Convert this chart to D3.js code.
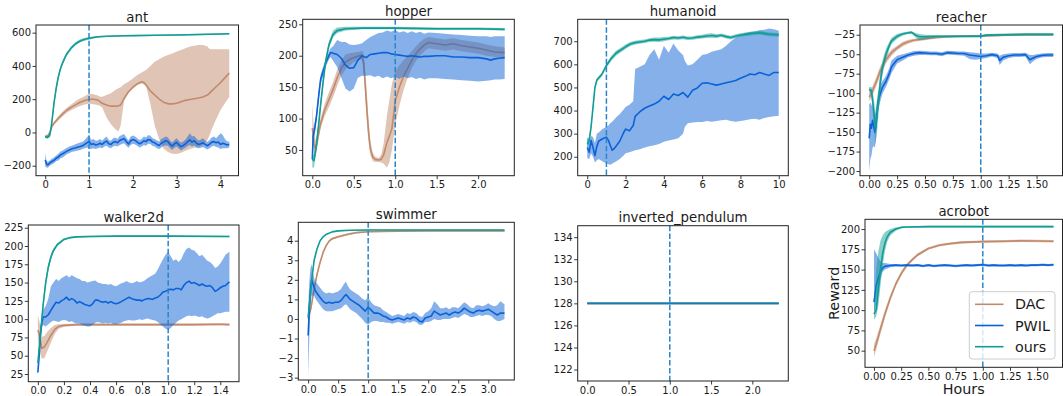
<!DOCTYPE html>
<html><head><meta charset="utf-8">
<script src="https://cdn.jsdelivr.net/npm/d3@7"></script>
<style>body{margin:0;background:#fff} svg{display:block;font-family:"DejaVu Sans",sans-serif}</style>
</head><body><svg id="c" width="1063" height="396"></svg>
<script>
// ---- data: each row is [hours, mean, lower, upper] ----
const seriesNames = ["DAC", "PWIL", "ours"];

const ant_dac = [[0,-25,-35,-18],[0.05,-22,-30,-15],[0.1,-5,-15,5],[0.15,35,25,45],[0.2,55,45,65],[0.3,85,72,98],[0.4,112,98,126],[0.5,135,120,150],[0.6,152,135,170],[0.75,175,155,198],[0.9,192,168,218],[1.0,200,172,232],[1.1,200,170,230],[1.2,195,165,222],[1.25,185,160,214],[1.3,175,150,215],[1.4,165,90,225],[1.5,158,50,235],[1.6,158,20,255],[1.67,160,5,265],[1.72,165,40,272],[1.8,205,190,290],[1.9,245,235,305],[2.0,272,262,325],[2.1,292,285,345],[2.2,305,295,360],[2.25,300,288,368],[2.3,285,280,375],[2.4,250,170,400],[2.5,225,40,425],[2.6,200,-40,440],[2.7,182,-96,455],[2.8,172,-118,466],[2.9,172,-128,475],[3.0,176,-130,486],[3.1,185,-122,496],[3.2,193,-110,506],[3.3,198,-100,516],[3.4,203,-92,522],[3.5,207,-88,526],[3.6,213,-75,526],[3.7,225,-46,516],[3.75,236,-15,502],[3.8,250,20,500],[3.9,275,80,500],[4.0,300,135,500],[4.1,328,175,500],[4.2,357,215,500]];
const ant_pwil = [[0,-165,-205,-125],[0.03,-190,-210,-170],[0.06,-195,-212,-178],[0.1,-185,-200,-168],[0.15,-175,-192,-158],[0.2,-168,-185,-150],[0.25,-155,-172,-138],[0.3,-148,-168,-128],[0.35,-135,-155,-115],[0.4,-128,-150,-108],[0.45,-120,-140,-100],[0.5,-112,-130,-92],[0.55,-105,-125,-85],[0.6,-100,-118,-80],[0.65,-95,-115,-75],[0.7,-92,-112,-70],[0.75,-88,-108,-65],[0.8,-85,-105,-60],[0.85,-80,-100,-58],[0.9,-72,-95,-45],[0.95,-62,-90,-30],[1.0,-55,-95,-15],[1.05,-72,-100,-45],[1.1,-68,-95,-40],[1.15,-75,-100,-50],[1.2,-72,-95,-48],[1.25,-65,-90,-40],[1.3,-72,-95,-50],[1.35,-60,-85,-35],[1.4,-52,-80,-25],[1.45,-68,-90,-45],[1.5,-72,-95,-50],[1.55,-60,-85,-35],[1.6,-55,-80,-30],[1.65,-62,-85,-40],[1.7,-48,-75,-22],[1.75,-42,-70,-15],[1.8,-38,-65,-10],[1.85,-55,-80,-30],[1.9,-70,-92,-48],[1.95,-50,-75,-25],[2.0,-42,-68,-18],[2.05,-48,-72,-25],[2.1,-58,-80,-35],[2.15,-68,-90,-45],[2.2,-62,-85,-40],[2.25,-50,-75,-25],[2.3,-55,-80,-30],[2.35,-42,-68,-15],[2.4,-45,-70,-20],[2.45,-58,-82,-35],[2.5,-62,-85,-40],[2.55,-72,-95,-48],[2.6,-78,-100,-55],[2.65,-65,-90,-40],[2.7,-58,-82,-32],[2.75,-50,-78,-25],[2.8,-55,-80,-30],[2.85,-72,-95,-50],[2.9,-82,-105,-60],[2.95,-68,-92,-45],[3.0,-60,-85,-35],[3.05,-75,-98,-50],[3.1,-85,-108,-62],[3.15,-78,-100,-55],[3.2,-68,-92,-42],[3.25,-55,-82,-25],[3.3,-45,-75,-5],[3.35,-58,-85,-25],[3.4,-50,-78,-20],[3.45,-65,-90,-38],[3.5,-72,-95,-48],[3.55,-68,-92,-42],[3.6,-62,-88,-35],[3.65,-72,-95,-48],[3.7,-80,-102,-58],[3.75,-70,-95,-45],[3.8,-58,-85,-30],[3.85,-55,-80,-25],[3.9,-62,-88,-35],[3.95,-58,-90,-20],[4.0,-72,-100,-5],[4.05,-65,-95,-15],[4.1,-70,-95,-40],[4.15,-75,-95,-55],[4.2,-72,-90,-55]];
const ant_ours = [[0,-25,-32,-18],[0.05,-30,-38,-22],[0.1,-20,-30,-10],[0.13,20,5,35],[0.16,80,62,98],[0.2,175,155,195],[0.25,265,245,285],[0.3,335,318,352],[0.35,385,370,400],[0.4,420,407,433],[0.45,450,438,462],[0.5,475,464,486],[0.6,510,500,520],[0.7,535,526,544],[0.8,550,542,560],[0.9,560,552,568],[1.0,566,558,574],[1.1,571,565,577],[1.2,575,570,580],[1.4,578,574,582],[1.6,580,576,584],[1.8,581,577,585],[2.0,582,578,586],[2.5,584,580,588],[3.0,586,582,590],[3.5,589,585,593],[4.0,592,588,596],[4.2,593,589,597]];

const hopper_dac = [[0,85,70,125],[0.02,60,45,80],[0.04,50,38,65],[0.07,72,62,85],[0.1,92,84,100],[0.15,114,104,124],[0.2,130,118,142],[0.25,146,134,158],[0.3,165,152,178],[0.35,180,168,192],[0.4,190,178,202],[0.45,194,184,204],[0.5,197,190,205],[0.55,199,193,206],[0.6,201,194,208],[0.62,188,172,204],[0.64,150,130,172],[0.66,110,90,135],[0.68,76,60,95],[0.7,52,42,64],[0.73,38,32,45],[0.76,35,31,39],[0.8,34,31,37],[0.83,35,30,42],[0.86,42,28,60],[0.9,62,22,105],[0.93,72,30,130],[0.96,84,50,155],[1.0,128,90,175],[1.05,150,120,185],[1.1,167,145,193],[1.15,180,165,200],[1.2,193,180,207],[1.25,203,192,215],[1.3,211,200,222],[1.35,217,207,227],[1.4,221,212,230],[1.5,219,210,228],[1.6,217,208,226],[1.7,219,210,228],[1.8,216,207,225],[1.9,214,205,223],[2.0,212,203,221],[2.1,209,200,218],[2.2,206,198,215],[2.32,205,197,213]];
const hopper_pwil = [[0,35,28,42],[0.01,72,62,82],[0.03,85,75,95],[0.05,103,95,112],[0.08,140,132,148],[0.1,162,155,170],[0.13,175,168,182],[0.16,188,182,194],[0.2,200,194,206],[0.22,205,198,212],[0.25,204,192,215],[0.3,202,182,225],[0.35,196,165,222],[0.4,185,148,222],[0.45,180,143,218],[0.5,181,148,217],[0.55,193,165,218],[0.6,200,168,220],[0.65,197,168,225],[0.7,202,169,230],[0.75,203,166,233],[0.8,204,168,236],[0.85,205,164,237],[0.9,205,167,240],[0.95,203,164,238],[1.0,202,166,241],[1.05,201,163,237],[1.1,200,167,239],[1.15,199,164,236],[1.2,200,166,239],[1.25,199,163,236],[1.3,198,165,238],[1.35,199,162,235],[1.4,199,164,237],[1.5,200,164,236],[1.6,200,163,235],[1.7,198,162,234],[1.8,198,161,233],[1.9,197,160,232],[2.0,197,159,231],[2.1,195,160,231],[2.15,193,161,230],[2.2,195,162,231],[2.25,196,162,231],[2.32,197,163,231]];
const hopper_ours = [[0,35,22,45],[0.02,33,22,42],[0.05,58,50,66],[0.08,95,88,102],[0.1,122,115,130],[0.13,158,150,166],[0.16,190,183,197],[0.2,217,211,223],[0.25,234,229,240],[0.3,240,236,245],[0.4,243,240,246],[0.6,244,242,246],[1.0,244,242,246],[1.5,243,241,245],[2.0,243,241,245],[2.32,242,240,244]];

const humanoid_dac = [];
const humanoid_pwil = [[0,240,195,285],[0.1,220,190,270],[0.2,270,215,290],[0.3,240,200,285],[0.4,205,175,260],[0.5,245,185,300],[0.6,268,190,305],[0.8,278,180,320],[1.0,285,172,330],[1.1,272,168,335],[1.2,250,165,345],[1.3,228,170,352],[1.4,235,175,360],[1.5,245,180,370],[1.7,268,190,385],[1.9,305,205,405],[2.0,320,215,415],[2.2,312,220,425],[2.4,335,225,440],[2.5,375,228,580],[2.75,395,232,590],[3.0,410,240,600],[3.25,420,245,640],[3.5,428,250,665],[3.75,440,255,620],[4.0,462,265,680],[4.25,448,270,650],[4.5,472,275,690],[4.75,465,280,660],[5.0,478,300,640],[5.1,470,330,615],[5.25,458,345,595],[5.5,488,348,600],[5.75,498,350,620],[6.0,518,350,640],[6.25,520,355,645],[6.5,515,352,655],[6.75,510,355,660],[7.0,515,358,665],[7.25,520,360,680],[7.5,525,355,700],[7.75,530,352,715],[8.0,540,355,725],[8.25,548,358,735],[8.5,558,362,740],[8.75,555,365,742],[9.0,565,360,748],[9.25,558,368,750],[9.5,552,372,755],[9.75,565,375,752],[10.0,565,378,745]];
const humanoid_ours = [[0,255,240,275],[0.1,270,255,285],[0.2,330,315,345],[0.3,415,402,428],[0.4,500,490,510],[0.5,532,524,540],[0.75,555,546,564],[1.0,595,585,605],[1.25,625,614,636],[1.5,648,637,659],[1.75,662,652,672],[2.0,676,666,686],[2.25,688,679,697],[2.5,694,686,702],[2.75,697,689,705],[3.0,700,692,708],[3.25,705,697,713],[3.5,707,698,716],[3.75,706,697,716],[4.0,709,700,718],[4.25,712,704,720],[4.5,716,708,724],[4.75,714,706,722],[5.0,717,709,725],[5.25,713,705,721],[5.5,714,706,722],[5.75,718,710,726],[6.0,720,712,728],[6.25,723,714,732],[6.5,725,715,735],[6.75,722,714,730],[7.0,726,718,734],[7.25,720,712,728],[7.5,716,708,724],[7.75,722,714,730],[8.0,727,719,735],[8.5,733,725,741],[9.0,737,729,745],[9.5,730,722,738],[10.0,728,720,736]];

const reacher_dac = [[0,-105,-110,-98],[0.02,-100,-106,-94],[0.05,-90,-96,-84],[0.08,-79,-85,-73],[0.1,-71,-77,-65],[0.15,-57,-62,-52],[0.2,-48,-52,-44],[0.25,-42,-45,-39],[0.3,-37,-40,-34],[0.35,-34,-36.5,-31.5],[0.4,-32,-34,-30],[0.5,-30,-32,-28],[0.6,-28.5,-30,-27],[0.7,-27.5,-29,-26],[0.8,-27,-28.5,-25.5],[1.0,-26.5,-28,-25],[1.2,-25.5,-27,-24],[1.4,-25,-26.5,-23.5],[1.65,-25,-26.5,-23.5]];
const reacher_pwil = [[0,-158,-200,-115],[0.01,-140,-185,-112],[0.02,-145,-180,-115],[0.03,-135,-170,-118],[0.04,-142,-168,-120],[0.05,-150,-170,-128],[0.06,-143,-162,-125],[0.07,-125,-140,-112],[0.08,-110,-122,-100],[0.1,-100,-110,-90],[0.12,-92,-100,-84],[0.15,-85,-92,-78],[0.18,-75,-82,-68],[0.2,-66,-74,-58],[0.25,-57,-62,-52],[0.3,-54,-58,-50],[0.35,-51,-54,-48],[0.4,-49,-52,-46],[0.45,-48,-51,-45.5],[0.5,-48.5,-51,-46],[0.55,-49,-51.5,-46.5],[0.6,-49,-51.5,-46.5],[0.65,-50,-52.5,-47.5],[0.7,-48,-50.5,-45.5],[0.75,-48.5,-51,-46],[0.8,-49,-51.5,-46.5],[0.85,-49,-52,-46.5],[0.9,-51,-56,-47.5],[0.95,-52,-57,-48],[1.0,-53,-56,-49],[1.05,-52,-55,-49],[1.1,-50.5,-53,-48],[1.15,-52,-55,-49],[1.17,-58,-64,-52],[1.2,-54,-58,-50],[1.25,-52,-55,-49],[1.3,-51,-53.5,-48.5],[1.35,-51,-53.5,-48.5],[1.4,-50.5,-53,-48],[1.44,-57,-63,-51],[1.47,-55,-59,-51],[1.5,-53,-56,-50],[1.55,-51.5,-54,-49],[1.6,-51,-53.5,-48.5],[1.65,-51,-53.5,-48.5]];
const reacher_ours = [[0,-95,-98,-92],[0.02,-97,-102,-92],[0.04,-122,-140,-105],[0.055,-143,-165,-125],[0.07,-128,-150,-108],[0.085,-108,-125,-92],[0.1,-85,-98,-73],[0.12,-66,-76,-57],[0.15,-50,-57,-43],[0.18,-39,-44,-34],[0.2,-33,-37,-29],[0.25,-27,-30,-24],[0.3,-24,-26,-22],[0.35,-22.5,-24,-21],[0.38,-22,-23.5,-20.5],[0.42,-26,-29,-23],[0.45,-27.5,-32,-24],[0.5,-27.5,-31,-25],[0.6,-27,-29,-25.5],[0.8,-27,-28.5,-25.5],[1.0,-27,-28.5,-25.5],[1.05,-25.5,-27,-24],[1.2,-25,-26.5,-23.5],[1.4,-24.5,-26,-23],[1.65,-24.5,-26,-23]];

const walker_dac = [[0,85,70,105],[0.01,80,62,98],[0.02,70,52,88],[0.03,60,46,76],[0.05,62,47,77],[0.07,68,55,82],[0.1,78,68,88],[0.13,86,80,92],[0.16,90,87,93],[0.2,91.5,89.5,93.5],[0.3,92.5,91,94],[0.5,92.5,91,94],[0.8,92.5,91,94],[1.0,92.5,91,94],[1.2,92.5,91,94],[1.4,93,91.5,94.5],[1.47,92.5,91,94]];
const walker_pwil = [[0,27,25,29],[0.01,50,45,55],[0.02,80,72,88],[0.03,95,88,102],[0.04,103,92,112],[0.06,103,90,118],[0.08,106,93,128],[0.1,112,96,145],[0.12,118,98,150],[0.14,123,97,155],[0.16,122,96,152],[0.18,125,98,156],[0.2,127,99,158],[0.22,130,98,160],[0.24,126,96,157],[0.26,128,97,160],[0.28,126,95,158],[0.3,122,94,156],[0.32,124,94,155],[0.34,122,92,152],[0.36,120,91,152],[0.38,119,90,150],[0.4,118,90,151],[0.42,121,92,152],[0.44,126,95,153],[0.46,126,96,150],[0.48,124,95,149],[0.5,123,94,148],[0.52,124,95,148],[0.54,122,94,147],[0.56,124,95,148],[0.58,122,93,146],[0.6,121,93,145],[0.62,122,94,147],[0.64,124,95,149],[0.66,126,97,150],[0.68,128,98,152],[0.7,130,99,150],[0.72,128,98,149],[0.74,127,98,150],[0.76,126,99,152],[0.78,126,100,150],[0.8,125,99,151],[0.82,127,100,153],[0.84,128,101,156],[0.86,128,100,158],[0.88,127,99,160],[0.9,129,98,162],[0.92,130,96,168],[0.94,133,93,175],[0.96,137,90,182],[0.98,138,87,188],[1.0,140,86,192],[1.02,141,88,186],[1.04,140,92,180],[1.06,142,95,182],[1.08,142,98,178],[1.1,140,100,182],[1.12,146,102,190],[1.14,150,104,196],[1.16,152,105,198],[1.18,149,104,195],[1.2,150,105,194],[1.22,148,104,190],[1.24,146,103,186],[1.26,148,104,188],[1.28,146,102,184],[1.3,145,101,180],[1.32,146,102,178],[1.34,143,104,175],[1.36,138,106,170],[1.38,140,108,172],[1.4,143,108,176],[1.42,145,109,182],[1.44,146,110,188],[1.47,151,110,192]];
const walker_ours = [[0,40,35,45],[0.02,80,72,88],[0.04,119,112,126],[0.06,150,144,156],[0.08,171,166,176],[0.1,185,181,189],[0.12,194,191,197],[0.15,202,200,204],[0.2,209,207.5,210.5],[0.25,211.5,210.5,212.5],[0.3,212.5,211.5,213.5],[0.4,213,212,214],[0.6,213.5,212.5,214.5],[1.0,213.5,212.5,214.5],[1.47,213,212,214]];

const swimmer_dac = [[0,0.0,-0.1,0.1],[0.05,0.6,0.5,0.7],[0.1,1.5,1.4,1.6],[0.15,2.3,2.2,2.4],[0.2,2.9,2.82,2.98],[0.25,3.4,3.33,3.47],[0.3,3.75,3.68,3.82],[0.35,3.98,3.92,4.04],[0.4,4.1,4.04,4.16],[0.5,4.2,4.15,4.25],[0.6,4.28,4.23,4.33],[0.7,4.35,4.3,4.4],[0.8,4.41,4.37,4.45],[1.0,4.46,4.43,4.49],[1.5,4.49,4.46,4.52],[2.0,4.5,4.47,4.53],[3.27,4.5,4.47,4.53]];
const swimmer_pwil = [[0,-0.85,-2.9,0.6],[0.02,0.5,-1.0,1.9],[0.04,1.5,0.7,2.6],[0.06,2.0,1.2,2.8],[0.08,1.8,1.2,2.4],[0.1,1.6,1.2,2.1],[0.12,1.45,1.05,1.9],[0.15,1.3,0.9,1.8],[0.2,1.1,0.7,1.6],[0.25,0.9,0.5,1.4],[0.3,0.8,0.4,1.3],[0.35,0.85,0.4,1.35],[0.4,0.8,0.4,1.3],[0.45,0.85,0.45,1.35],[0.5,0.85,0.5,1.4],[0.55,0.95,0.55,1.55],[0.6,1.15,0.7,1.8],[0.63,1.25,0.75,1.9],[0.66,1.15,0.65,1.7],[0.7,1.0,0.5,1.5],[0.75,0.9,0.4,1.4],[0.8,0.8,0.3,1.3],[0.85,0.7,0.15,1.2],[0.9,0.55,0.0,1.05],[0.95,0.4,-0.2,0.95],[1.0,0.6,-0.3,1.1],[1.05,0.45,-0.15,0.85],[1.1,0.3,-0.1,0.7],[1.15,0.3,-0.1,0.65],[1.2,0.25,-0.15,0.6],[1.25,0.15,-0.15,0.45],[1.3,0.1,-0.2,0.35],[1.35,0.0,-0.2,0.25],[1.4,-0.05,-0.25,0.15],[1.45,0.0,-0.2,0.2],[1.5,0.05,-0.15,0.25],[1.55,0.0,-0.2,0.2],[1.6,-0.05,-0.25,0.15],[1.65,0.05,-0.15,0.3],[1.7,0.0,-0.2,0.25],[1.75,0.1,-0.1,0.35],[1.8,0.05,-0.15,0.3],[1.85,-0.1,-0.3,0.15],[1.9,-0.15,-0.3,0.1],[1.95,0.05,-0.15,0.3],[2.0,0.1,-0.15,0.4],[2.05,0.15,-0.1,0.55],[2.1,0.4,0.0,0.9],[2.15,0.3,-0.05,0.75],[2.2,0.2,-0.05,0.55],[2.25,0.25,0.0,0.55],[2.3,0.3,0.0,0.6],[2.35,0.2,0.0,0.5],[2.4,0.3,0.05,0.6],[2.45,0.35,0.1,0.6],[2.5,0.3,0.05,0.55],[2.55,0.4,0.15,0.7],[2.6,0.55,0.25,0.85],[2.65,0.45,0.2,0.75],[2.7,0.35,0.1,0.6],[2.75,0.3,0.1,0.55],[2.8,0.4,0.15,0.7],[2.85,0.45,0.2,0.7],[2.9,0.4,0.15,0.65],[2.95,0.45,0.2,0.7],[3.0,0.5,0.2,0.8],[3.05,0.4,0.15,0.7],[3.1,0.3,0.0,0.65],[3.15,0.2,-0.1,0.7],[3.2,0.3,-0.1,0.9],[3.27,0.3,0.0,0.75]];
const swimmer_ours = [[0,0.1,-0.1,0.3],[0.03,1.0,0.85,1.15],[0.06,2.0,1.88,2.12],[0.1,3.0,2.92,3.08],[0.15,3.6,3.54,3.66],[0.2,4.0,3.96,4.04],[0.25,4.2,4.17,4.23],[0.3,4.32,4.29,4.35],[0.4,4.45,4.43,4.47],[0.5,4.5,4.48,4.52],[0.7,4.53,4.51,4.55],[1.0,4.55,4.53,4.57],[2.0,4.55,4.53,4.57],[3.27,4.55,4.53,4.57]];

const pendulum_dac = [[0,128,128,128],[2.32,128,128,128]];
const pendulum_pwil = [[0,128,128,128],[2.32,128,128,128]];
const pendulum_ours = [[0,128,128,128],[2.32,128,128,128]];

const acrobot_dac = [[0,50,42,58],[0.02,58,51,65],[0.05,72,66,78],[0.1,95,90,100],[0.15,115,111,119],[0.2,132,129,135],[0.25,145,142,148],[0.3,155,152.5,157.5],[0.35,162,160,164],[0.4,168,166,170],[0.5,176,174.5,177.5],[0.6,180,178.5,181.5],[0.7,182,180.5,183.5],[0.8,183.5,182,185],[1.0,184.5,183,186],[1.2,185,183.5,186.5],[1.35,185.5,184,187],[1.65,185,183.5,186.5]];
const acrobot_pwil = [[0,110,95,175],[0.02,130,110,170],[0.04,140,125,165],[0.06,148,140,160],[0.08,152,147,158],[0.1,154,150,158],[0.15,155,153,157],[0.2,155.5,154,157],[0.25,155,153.5,156.5],[0.3,155.5,154,157],[0.35,155,153.5,156.5],[0.4,155.5,154,157],[0.45,154.5,153,156],[0.5,155.5,154,157],[0.55,154.5,153,156],[0.6,155,153.5,156.5],[0.65,155.5,154,157],[0.7,155,153.5,156.5],[0.75,154.5,153,156],[0.8,155,153.5,156.5],[0.85,155.5,154,157],[0.9,155,153.5,156.5],[0.95,155.5,154,157],[1.0,156,154.5,157.5],[1.05,155,153.5,156.5],[1.1,155.5,154,157],[1.15,155,153.5,156.5],[1.2,155,153.5,156.5],[1.25,155.5,154,157],[1.3,155,153.5,156.5],[1.35,155.5,154,157],[1.4,155,153.5,156.5],[1.45,155.5,154,157],[1.5,155.5,154,157],[1.55,156,154.5,157.5],[1.6,155.5,154,157],[1.65,156,154.5,157.5]];
const acrobot_ours = [[0,95,88,102],[0.02,100,92,150],[0.04,125,105,172],[0.06,150,130,186],[0.08,170,155,192],[0.1,182,172,196],[0.12,190,184,198],[0.15,196,192,200],[0.2,200,198,202],[0.25,202,201,203],[0.3,202.5,201.5,203.5],[0.5,203,202,204],[1.0,203,202,204],[1.65,203,202,204]];

// tick labels
const antXTicks = [0,1,2,3,4], antYTicks = [-200,0,200,400,600];
const hopperXTicks = [0,0.5,1,1.5,2], hopperYTicks = [50,100,150,200,250];
const humanoidXTicks = [0,2,4,6,8,10], humanoidYTicks = [200,300,400,500,600,700];
const reacherXTicks = [0,0.25,0.5,0.75,1,1.25,1.5], reacherYTicks = [-200,-175,-150,-125,-100,-75,-50,-25];
const walkerXTicks = [0,0.2,0.4,0.6,0.8,1,1.2,1.4], walkerYTicks = [25,50,75,100,125,150,175,200,225];
const swimmerXTicks = [0,0.5,1,1.5,2,2.5,3], swimmerYTicks = [-3,-2,-1,0,1,2,3,4];
const pendulumXTicks = [0,0.5,1,1.5,2], pendulumYTicks = [122,124,126,128,130,132,134];
const acrobotXTicks = [0,0.25,0.5,0.75,1,1.25,1.5], acrobotYTicks = [50,75,100,125,150,175,200];
const markerHour = 1;

// ---- layout / styles ----
const COLORS = {dac:'#c28a6c', pwil:'#0b62d6', ours:'#119d95'};
const panels = [
 {title:'ant', box:[36,25,238.5,175.7], xd:[-0.21,4.41], yd:[-260,646], xt:antXTicks, yt:antYTicks, xf:'d', s:{dac:ant_dac,pwil:ant_pwil,ours:ant_ours}},
 {title:'hopper', box:[302.7,19.3,514.3,175.7], xd:[-0.116,2.436], yd:[9,258], xt:hopperXTicks, yt:hopperYTicks, xf:'.1f', s:{dac:hopper_dac,pwil:hopper_pwil,ours:hopper_ours}},
 {title:'humanoid', box:[577.7,19.3,788.3,175.7], xd:[-0.5,10.5], yd:[118,795], xt:humanoidXTicks, yt:humanoidYTicks, xf:'d', s:{dac:humanoid_dac,pwil:humanoid_pwil,ours:humanoid_ours}},
 {title:'reacher', box:[860,25,1062.5,175.7], xd:[-0.0825,1.7325], yd:[-206,-12.5], xt:reacherXTicks, yt:reacherYTicks, xf:'.2f', s:{dac:reacher_dac,pwil:reacher_pwil,ours:reacher_ours}},
 {title:'walker2d', box:[28.3,225,239,381.7], xd:[-0.0735,1.5435], yd:[14.5,228.7], xt:walkerXTicks, yt:walkerYTicks, xf:'.1f', s:{dac:walker_dac,pwil:walker_pwil,ours:walker_ours}},
 {title:'swimmer', box:[298.3,222.3,514.3,380], xd:[-0.1635,3.4335], yd:[-3.12,4.94], xt:swimmerXTicks, yt:swimmerYTicks, xf:'.1f', s:{dac:swimmer_dac,pwil:swimmer_pwil,ours:swimmer_ours}},
 {title:'inverted_pendulum', box:[577.7,225.7,788.3,381], xd:[-0.116,2.436], yd:[120.96,135.04], xt:pendulumXTicks, yt:pendulumYTicks, xf:'.1f', oursOpacity:0.55, s:{dac:pendulum_dac,pwil:pendulum_pwil,ours:pendulum_ours}},
 {title:'acrobot', box:[865,219.3,1062.5,367.3], xd:[-0.0825,1.7325], yd:[29.5,212], xt:acrobotXTicks, yt:acrobotYTicks, xf:'.2f', s:{dac:acrobot_dac,pwil:acrobot_pwil,ours:acrobot_ours}, legend:true, xlabel:'Hours', ylabel:'Reward'}
];

const svg = d3.select('#c');
const defs = svg.append('defs');
const TXT = '#1a1a1a';

panels.forEach((p,i)=>{
  const [x0,y0,x1,y1] = p.box;
  const x = d3.scaleLinear().domain(p.xd).range([x0,x1]);
  const y = d3.scaleLinear().domain(p.yd).range([y1,y0]);
  const g = svg.append('g');
  defs.append('clipPath').attr('id','cl'+i).append('rect')
    .attr('x',x0).attr('y',y0).attr('width',x1-x0).attr('height',y1-y0);
  const plot = g.append('g').attr('clip-path',`url(#cl${i})`);
  ['dac','pwil','ours'].forEach(k=>{
    const data = p.s[k];
    if(!data.length) return;
    plot.append('path').datum(data)
      .attr('d', d3.area().x(d=>x(d[0])).y0(d=>y(d[2])).y1(d=>y(d[3])))
      .attr('fill',COLORS[k]).attr('fill-opacity',0.5);
    plot.append('path').datum(data)
      .attr('d', d3.line().x(d=>x(d[0])).y(d=>y(d[1])))
      .attr('fill','none').attr('stroke',COLORS[k]).attr('stroke-width',1.6)
      .attr('stroke-opacity', (k==='ours' && p.oursOpacity) ? p.oursOpacity : 1)
      .attr('stroke-linejoin','round');
  });
  plot.append('line').attr('x1',x(markerHour)).attr('x2',x(markerHour)).attr('y1',y0).attr('y2',y1)
    .attr('stroke','#2a85c9').attr('stroke-width',1.5).attr('stroke-dasharray','5.5,2.4');

  const ax = g.append('g').attr('transform',`translate(0,${y1})`)
    .call(d3.axisBottom(x).tickValues(p.xt).tickFormat(d3.format(p.xf)).tickSize(3.5).tickSizeOuter(0).tickPadding(2));
  const ay = g.append('g').attr('transform',`translate(${x0},0)`)
    .call(d3.axisLeft(y).tickValues(p.yt).tickFormat(d3.format('d')).tickSize(3.5).tickSizeOuter(0).tickPadding(1.5));
  [ax,ay].forEach(a=>{
    a.select('.domain').remove();
    a.selectAll('line').attr('stroke','#222').attr('stroke-width',0.9);
    a.selectAll('text').attr('font-size','10px').attr('font-family','"DejaVu Sans",sans-serif').attr('fill',TXT);
  });
  g.append('rect').attr('x',x0).attr('y',y0).attr('width',x1-x0).attr('height',y1-y0)
    .attr('fill','none').attr('stroke','#222').attr('stroke-width',1);
  g.append('text').attr('x',(x0+x1)/2).attr('y',y0-3.4).attr('text-anchor','middle')
    .attr('font-size','13.3px').attr('fill',TXT).text(p.title);

  if(p.xlabel){
    g.append('text').attr('x',(x0+x1)/2).attr('y',394).attr('text-anchor','middle')
      .attr('font-size','14.3px').attr('fill',TXT).text(p.xlabel);
  }
  if(p.ylabel){
    g.append('text').attr('transform',`translate(839,${(y0+y1)/2}) rotate(-90)`).attr('text-anchor','middle')
      .attr('font-size','14.3px').attr('fill',TXT).text(p.ylabel);
  }
  if(p.legend){
    const lg = g.append('g');
    lg.append('rect').attr('x',969.3).attr('y',291.7).attr('width',85.7).attr('height',67.3).attr('rx',3)
      .attr('fill','#fff').attr('fill-opacity',0.8).attr('stroke','#cccccc').attr('stroke-width',1);
    ['dac','pwil','ours'].forEach((k,j)=>{
      const yy = 304.3 + j*21.2;
      lg.append('line').attr('x1',975).attr('x2',1003.5).attr('y1',yy).attr('y2',yy)
        .attr('stroke',COLORS[k]).attr('stroke-width',1.6);
      lg.append('text').attr('x',1015).attr('y',yy).attr('dy','0.36em')
        .attr('font-size','14.3px').attr('fill',TXT).text(seriesNames[j]);
    });
  }
});
</script></body></html>
